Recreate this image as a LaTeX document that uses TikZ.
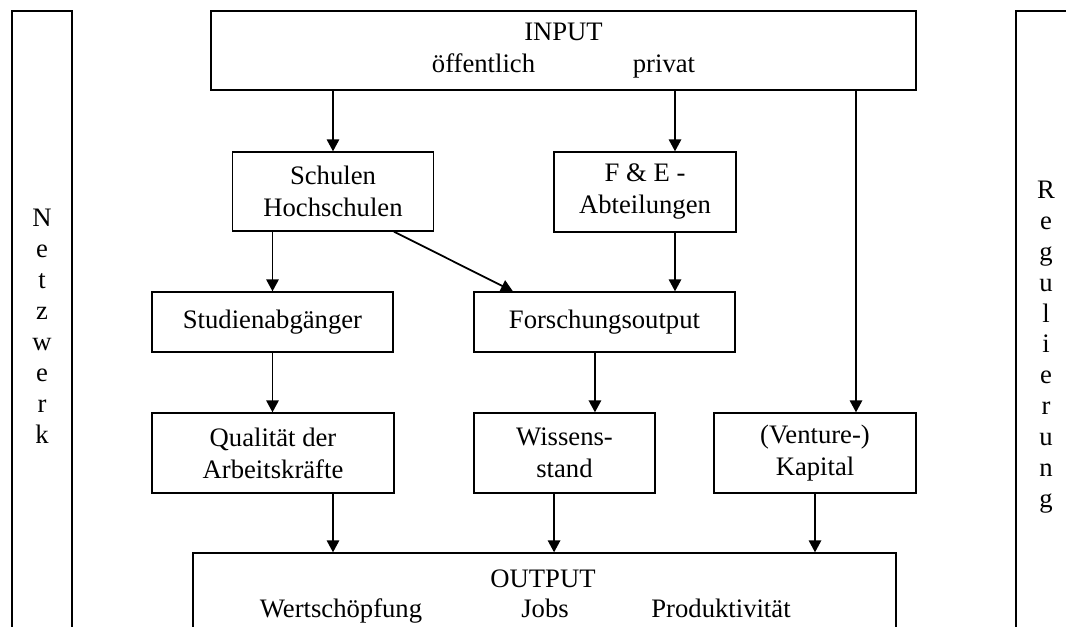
\documentclass[tikz,border=0pt]{standalone}
\usepackage{fontspec}
\setmainfont{Liberation Serif}
\usetikzlibrary{arrows.meta}

\begin{document}
\begin{tikzpicture}[
    x = 0.45pt, y = -0.45pt, % one unit = one pixel of the sketch, y runs down
    > = {Triangle[length=5.4pt, width=5.6pt]}, % arrow head style
    line width = 0.8pt, % arrow line style
    font = \fontsize{12}{14.4}\selectfont
    ]

    \tikzset{box/.style={
    draw = black,
    line width = 0.6pt,
    align = center,
    inner sep = 0pt
    }}
    \tikzset{bar/.style={
    box,
    minimum width = 27pt,
    font = \fontsize{12}{13.9}\selectfont
    }}

    \clip (0,0) rectangle (1066,627);

    % frame
    \node[bar, minimum height=283.7pt] (netz) at (42,326.2) {N\\e\\t\\z\\w\\e\\r\\k};
    \node[bar, minimum height=302.5pt] (regul) at (1046,347.1) {R\\e\\g\\u\\l\\i\\e\\r\\u\\n\\g};

    \node[box, minimum width=317.25pt, minimum height=35.55pt] (input) at (563.5,50.5) {INPUT\\öffentlich\hspace{44pt}privat};
    \node[box, minimum width=316.35pt, minimum height=36pt] (output) at (544.5,593) {};
    \node[anchor=base] (outtitle) at (543,587) {OUTPUT};
    \node[anchor=base] (wert) at (341,617) {Wertschöpfung};
    \node[anchor=base] (jobs) at (545,617) {Jobs};
    \node[anchor=base] (prod) at (721,617) {Produktivität};

    % inner boxes
    \node[box, minimum width=90.45pt, minimum height=35.55pt] (schulen) at (333,191.5) {Schulen\\Hochschulen};
    \node[box, minimum width=81.9pt, minimum height=36pt] (fue) at (645,192) {F \& E -\\Abteilungen};
    \node[box, minimum width=108.45pt, minimum height=27pt] (studien) at (272.5,322) {Studienabgänger};
    \node[box, minimum width=117.45pt, minimum height=27pt] (forschung) at (604.5,322) {Forschungsoutput};
    \node[box, minimum width=108.9pt, minimum height=36pt] (qualitaet) at (273,453) {Qualität der\\Arbeitskräfte};
    \node[box, minimum width=81.45pt, minimum height=36pt] (wissen) at (564.5,453) {Wissens-\\stand};
    \node[box, minimum width=90.9pt, minimum height=36pt] (kapital) at (815,453) {(Venture-)\\Kapital};

    \path[->] (input.south -| schulen.north) edge (schulen.north);
    \path[->] ([xshift=13.5pt]fue.north |- input.south) edge ([xshift=13.5pt]fue.north);
    \path[->] ([xshift=18.45pt]kapital.north |- input.south) edge ([xshift=18.45pt]kapital.north);
    \path[->] (schulen.south -| studien.north) edge (studien.north);
    \path[->] ([xshift=27.45pt]schulen.south) edge ([xshift=-41.2pt]forschung.north);
    \path[->] ([xshift=13.5pt]fue.south) edge ([xshift=13.5pt]fue.south |- forschung.north);
    \path[->] (studien.south) edge (studien.south |- qualitaet.north);
    \path[->] ([xshift=13.7pt]wissen.north |- forschung.south) edge ([xshift=13.7pt]wissen.north);
    \path[->] ([xshift=27pt]qualitaet.south) edge ([xshift=27pt]qualitaet.south |- output.north);
    \path[->] ([xshift=-4.7pt]wissen.south) edge ([xshift=-4.7pt]wissen.south |- output.north);
    \path[->] (kapital.south) edge (kapital.south |- output.north);
\end{tikzpicture}
\end{document}
